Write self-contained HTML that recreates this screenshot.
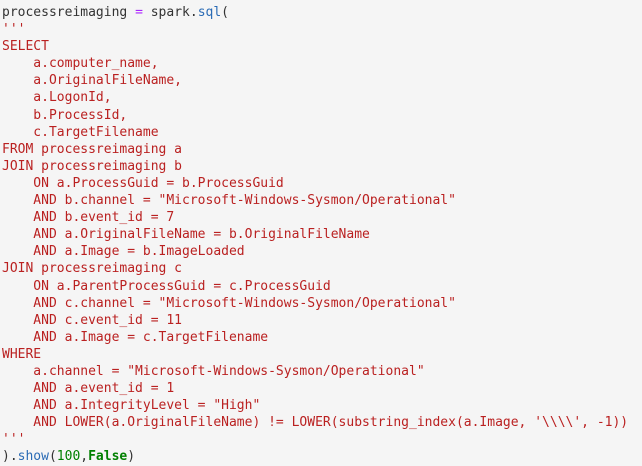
<!DOCTYPE html>
<html><head><meta charset="utf-8"><style>
html,body{margin:0;padding:0;background:#f5f5f5;width:642px;height:466px;overflow:hidden}
pre{margin:0;padding:4px 0 0 2px;font-family:"DejaVu Sans Mono","Liberation Mono",monospace;font-size:13px;line-height:17.1px;color:#333}
.s{color:#ba2121}.f{color:#2a6bb5}.o{color:#aa22ff}.n{color:#008000}.k{color:#008000;font-weight:bold}
</style></head><body><pre>processreimaging <span class="o">=</span> spark.<span class="f">sql</span>(
<span class="s">'''
SELECT
    a.computer_name,
    a.OriginalFileName,
    a.LogonId,
    b.ProcessId,
    c.TargetFilename
FROM processreimaging a
JOIN processreimaging b
    ON a.ProcessGuid = b.ProcessGuid
    AND b.channel = "Microsoft-Windows-Sysmon/Operational"
    AND b.event_id = 7
    AND a.OriginalFileName = b.OriginalFileName
    AND a.Image = b.ImageLoaded
JOIN processreimaging c
    ON a.ParentProcessGuid = c.ProcessGuid
    AND c.channel = "Microsoft-Windows-Sysmon/Operational"
    AND c.event_id = 11
    AND a.Image = c.TargetFilename
WHERE
    a.channel = "Microsoft-Windows-Sysmon/Operational"
    AND a.event_id = 1
    AND a.IntegrityLevel = "High"
    AND LOWER(a.OriginalFileName) != LOWER(substring_index(a.Image, '\\\\', -1))
'''</span>
).<span class="f">show</span>(<span class="n">100</span>,<span class="k">False</span>)</pre></body></html>
